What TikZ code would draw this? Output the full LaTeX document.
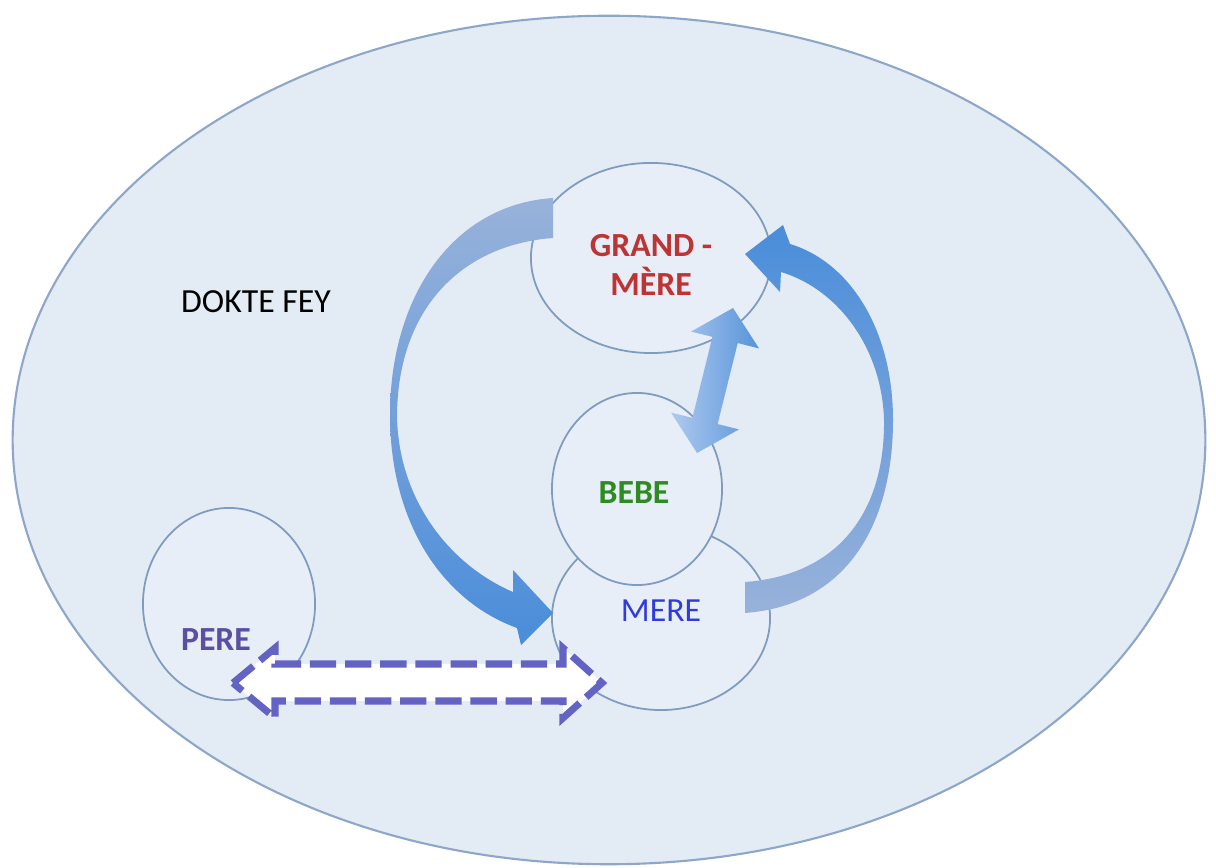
\documentclass[tikz,border=0pt]{standalone}
\usepackage{fontspec}
\setmainfont{Carlito}
\usetikzlibrary{shapes.geometric}
\definecolor{bgfill}{HTML}{E3EBF5}
\definecolor{cfill}{HTML}{E7EEF7}
\definecolor{cline}{HTML}{7F9BBE}
\definecolor{eline}{HTML}{8EA7C9}
\definecolor{arrlight}{HTML}{98B2DA}
\definecolor{arrdark}{HTML}{4A8DDA}
\definecolor{dbllight}{HTML}{AFC9EE}
\definecolor{dbldark}{HTML}{5794DA}
\definecolor{gmred}{HTML}{BE3434}
\definecolor{bbgreen}{HTML}{2E8B22}
\definecolor{mblue}{HTML}{2F3BDB}
\definecolor{ppurple}{HTML}{5A4FA3}
\definecolor{dashc}{HTML}{6363C4}
\begin{document}
\begin{tikzpicture}[x=0.01cm,y=-0.01cm,
  person/.style={ellipse, draw=cline, line width=0.5pt, fill=cfill, inner sep=0pt},
  lbl/.style={inner sep=0pt, align=center, font=\fontsize{9.6pt}{11.2pt}\selectfont},
  lblb/.style={inner sep=0pt, align=center, font=\fontsize{9.6pt}{11.2pt}\selectfont\bfseries},
  blockarrow/.style={draw=none},
]
\useasboundingbox (0,0) rectangle (1216,868);
\fill[white] (0,0) rectangle (1216,868);
\node[ellipse, draw=eline, fill=bgfill, line width=0.6pt, minimum width=11.92cm, minimum height=8.48cm, inner sep=0pt] (world) at (609,440) {};
% persons
\node[person, minimum width=2.4cm, minimum height=1.9cm] (gm) at (651,258) {};
\node[person, minimum width=2.18cm, minimum height=1.84cm] (mere) at (661,618) {};
\node[person, minimum width=1.7cm, minimum height=1.92cm] (bebe) at (637,489) {};
\node[person, minimum width=1.72cm, minimum height=1.92cm] (pere) at (229,604) {};
% left curved arrow (grand-mere -> mere)
\path[blockarrow, top color=arrlight, bottom color=arrdark]
  (553,198) .. controls (450,205) and (390,300) .. (390,415)
  .. controls (390,520) and (440,600) .. (517,628)
  -- (521,645) -- (553,613) -- (513,570) -- (513,592)
  .. controls (450,565) and (398,500) .. (397,415)
  .. controls (398,310) and (460,245) .. (553,238) -- cycle;
% right curved arrow (mere -> grand-mere)
\path[blockarrow, top color=arrdark, bottom color=arrlight]
  (745,613) .. controls (850,605) and (893,520) .. (893,420)
  .. controls (893,330) and (850,262) .. (790,244)
  -- (783,225) -- (745,254) -- (780,292) -- (781,272)
  .. controls (840,290) and (882,350) .. (884,420)
  .. controls (885,510) and (840,575) .. (745,582) -- cycle;
% double arrow grand-mere <-> bebe
\path[blockarrow, left color=dbllight, right color=dbldark]
  (733,308) -- (759.0,348.4) -- (737.7,343.1) -- (717.6,424.1) -- (738.9,429.4)
  -- (697,453) -- (671.0,412.6) -- (692.4,417.9) -- (712.4,336.9) -- (691.1,331.6) -- cycle;
% dashed double arrow pere <-> mere
\draw[dashc, line width=2pt, dash pattern=on 7.5pt off 2.5pt, fill=white, line join=miter]
  (233,683) -- (275,648) -- (275,664) -- (563,664) -- (563,648) -- (602,683)
  -- (563,718) -- (563,701) -- (275,701) -- (275,718) -- cycle;
% labels
\node[lbl, text=black] (tdokte) at (256,302) {DOKTE FEY};
\node[lblb, text=gmred] (tgm) at (651,265) {GRAND -\\MÈRE};
\node[lblb, text=bbgreen] (tbebe) at (634,493) {BEBE};
\node[lbl, text=mblue] (tmere) at (661,611) {MERE};
\node[lblb, text=ppurple] (tpere) at (216,640) {PERE};
\end{tikzpicture}
\end{document}
